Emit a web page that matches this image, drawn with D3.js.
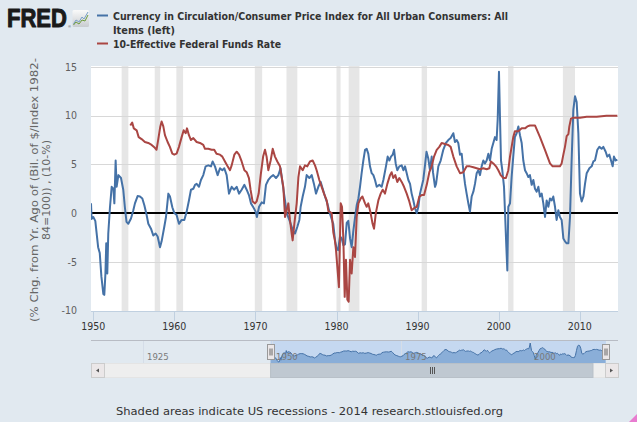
<!DOCTYPE html>
<html><head><meta charset="utf-8">
<script src="https://cdn.jsdelivr.net/npm/d3@7/dist/d3.min.js"></script>
<style>html,body{margin:0;padding:0;background:#e1e9f0;overflow:hidden}svg{display:block}</style>
</head><body>
<svg id="c" width="637" height="422"></svg>
<script>
// ---------- DATA ----------
const blueYears = [1949.72,1949.8,1950.0,1950.25,1950.6,1950.8,1951.0,1951.24,1951.36,1951.5,1951.6,1951.73,1951.85,1952.06,1952.27,1952.48,1952.6,1952.76,1952.88,1953.1,1953.42,1953.7,1953.9,1954.1,1954.32,1954.65,1954.94,1955.14,1955.47,1955.76,1956.05,1956.3,1956.58,1956.79,1957.12,1957.4,1957.69,1957.94,1958.23,1958.43,1958.76,1958.97,1959.26,1959.46,1959.75,1960.0,1960.28,1960.57,1960.9,1961.23,1961.52,1961.8,1962.05,1962.34,1962.55,1962.75,1963.04,1963.28,1963.57,1963.86,1964.19,1964.52,1964.72,1965.01,1965.34,1965.63,1965.92,1966.16,1966.45,1966.74,1967.07,1967.36,1967.69,1967.98,1968.3,1968.64,1968.92,1969.2,1969.45,1969.74,1970.03,1970.18,1970.45,1970.77,1971.05,1971.3,1971.59,1971.88,1972.2,1972.54,1972.83,1973.1,1973.36,1973.65,1973.85,1974.18,1974.47,1974.68,1974.88,1975.17,1975.42,1975.58,1975.83,1976.11,1976.32,1976.65,1976.94,1977.22,1977.47,1977.76,1978.05,1978.3,1978.58,1978.87,1979.12,1979.4,1979.6,1979.82,1980.0,1980.2,1980.43,1980.64,1980.85,1981.05,1981.26,1981.46,1981.67,1981.87,1982.08,1982.28,1982.49,1982.7,1982.9,1983.1,1983.31,1983.52,1983.72,1983.92,1984.13,1984.34,1984.55,1984.75,1984.96,1985.28,1985.57,1985.78,1986.1,1986.31,1986.52,1986.72,1986.93,1987.1,1987.3,1987.5,1987.75,1988.04,1988.25,1988.45,1988.66,1988.86,1989.07,1989.27,1989.48,1989.68,1989.9,1990.1,1990.3,1990.5,1990.7,1990.9,1991.1,1991.32,1991.53,1991.74,1991.9,1992.15,1992.28,1992.56,1992.85,1993.17,1993.5,1993.79,1994.08,1994.41,1994.61,1994.82,1995.02,1995.23,1995.44,1995.64,1995.85,1996.05,1996.26,1996.46,1996.67,1996.88,1997.08,1997.29,1997.49,1997.7,1997.9,1998.11,1998.31,1998.52,1998.73,1998.93,1999.14,1999.34,1999.55,1999.75,1999.88,2000.04,2000.17,2000.29,2000.45,2000.66,2000.82,2000.95,2001.07,2001.19,2001.4,2001.6,2001.8,2002.0,2002.22,2002.43,2002.63,2002.84,2003.04,2003.25,2003.45,2003.66,2003.86,2004.07,2004.28,2004.48,2004.69,2004.9,2005.1,2005.31,2005.51,2005.72,2005.92,2006.13,2006.33,2006.54,2006.74,2006.95,2007.15,2007.36,2007.56,2007.77,2007.98,2008.18,2008.39,2008.6,2008.8,2009.0,2009.21,2009.42,2009.62,2009.83,2010.03,2010.24,2010.45,2010.65,2010.86,2011.19,2011.47,2011.68,2011.88,2012.17,2012.42,2012.7,2012.91,2013.2,2013.4,2013.65,2013.86,2014.06,2014.22,2014.43,2014.64];
const blueValues = [1.0,-0.6,-0.4,-0.8,-3.5,-4.1,-6.5,-8.3,-8.4,-6.2,-3.1,-6.2,-2.1,0.6,2.7,2.5,1.0,5.4,2.7,3.9,3.6,2.4,0.6,-0.9,-1.1,-0.55,0.3,1.0,1.75,1.7,1.5,0.8,-0.2,-1.1,-1.6,-2.3,-2.1,-2.4,-3.5,-2.9,-1.4,-0.4,2.0,1.7,0.6,0.0,-0.2,-1.1,-0.7,-0.7,0.15,1.3,2.4,2.5,2.9,3.0,2.7,3.4,3.9,4.8,4.9,4.8,5.3,4.8,3.9,4.6,4.4,4.6,3.9,2.0,2.7,2.4,2.7,2.0,2.4,2.9,2.4,1.85,1.0,0.6,0.15,-0.4,0.65,1.1,1.0,2.9,3.4,3.7,3.9,3.6,3.9,4.6,3.0,1.3,0.0,-0.7,-1.4,-1.9,-2.1,-1.4,-0.7,0.65,1.7,2.7,3.9,3.6,3.9,3.0,2.0,2.7,3.2,2.5,1.7,1.0,0.15,-0.6,-1.1,-2.8,-3.6,-3.8,-2.4,-2.6,-3.3,-3.2,-1.0,-0.8,-2.6,-3.5,-1.8,-0.5,0.8,1.5,2.7,4.1,5.4,6.5,6.6,6.1,4.8,4.1,3.9,3.4,2.7,2.9,2.7,3.4,4.8,5.8,5.4,5.8,6.0,6.5,5.1,4.4,4.8,4.9,4.4,4.8,4.1,3.4,3.0,2.0,1.3,0.5,0.0,0.65,2.0,2.7,3.4,4.8,6.3,5.6,4.4,5.8,4.2,2.7,3.0,4.8,5.4,6.5,7.2,7.5,7.7,8.2,7.3,7.5,7.2,6.0,6.1,4.4,3.0,2.0,1.0,0.15,1.7,2.2,3.0,4.1,4.4,3.9,4.8,5.4,5.1,5.4,6.1,5.4,6.6,7.2,7.8,7.5,9.6,14.5,9.6,5.4,4.4,2.7,-0.7,-3.5,-5.9,0.65,1.0,3.7,5.8,7.8,8.2,8.9,8.0,7.2,5.4,4.4,4.1,3.7,3.9,2.9,3.4,2.5,2.2,2.7,1.7,2.0,1.0,-0.4,1.3,0.65,1.5,1.3,1.7,0.65,-0.7,0.3,-0.4,-0.7,-2.6,-2.9,-3.1,-3.1,-0.4,5.4,10.6,12.0,11.4,8.2,2.0,1.2,1.7,3.0,4.1,4.6,4.8,5.3,5.4,6.5,6.8,6.6,6.8,6.3,5.8,6.0,5.4,4.8,5.8,5.4,5.5];

const redYears = [1954.57,1954.8,1955.0,1955.35,1955.6,1955.96,1956.37,1956.78,1957.2,1957.6,1957.8,1958.0,1958.27,1958.43,1958.64,1958.84,1959.17,1959.45,1959.75,1959.99,1960.28,1960.57,1960.9,1961.15,1961.4,1961.56,1961.8,1962.05,1962.34,1962.75,1963.16,1963.57,1963.78,1964.19,1964.6,1964.92,1965.2,1965.63,1965.92,1966.24,1966.57,1966.86,1967.07,1967.4,1967.69,1967.98,1968.3,1968.64,1968.92,1969.2,1969.4,1969.65,1969.95,1970.15,1970.4,1970.65,1970.95,1971.18,1971.38,1971.59,1971.88,1972.13,1972.41,1972.7,1973.03,1973.24,1973.44,1973.65,1973.85,1974.06,1974.26,1974.47,1974.59,1974.8,1975.09,1975.3,1975.5,1975.83,1976.11,1976.4,1976.73,1977.06,1977.35,1977.55,1977.88,1978.17,1978.46,1978.79,1979.0,1979.4,1979.61,1979.8,1979.94,1980.1,1980.3,1980.52,1980.68,1980.85,1981.01,1981.17,1981.34,1981.5,1981.67,1981.87,1982.08,1982.28,1982.49,1982.7,1982.98,1983.2,1983.52,1983.72,1983.92,1984.21,1984.45,1984.63,1984.85,1985.16,1985.45,1985.7,1985.98,1986.27,1986.6,1986.8,1987.0,1987.25,1987.5,1987.75,1988.04,1988.33,1988.66,1988.98,1989.27,1989.56,1989.9,1990.22,1990.5,1990.8,1991.13,1991.45,1991.74,1992.03,1992.36,1992.68,1992.97,1993.38,1993.79,1994.08,1994.41,1994.82,1995.23,1995.64,1996.05,1996.46,1996.88,1997.29,1997.7,1998.11,1998.52,1998.85,1999.05,1999.34,1999.67,1999.96,2000.25,2000.58,2000.9,2001.19,2001.4,2001.6,2001.8,2002.0,2002.43,2002.84,2003.25,2003.54,2003.86,2004.48,2005.1,2005.71,2006.33,2006.66,2007.56,2007.77,2007.98,2008.18,2008.39,2008.6,2008.72,2008.92,2009.21,2010.03,2010.86,2012.09,2013.3,2014.64];
const redValues = [9.0,9.3,8.7,8.5,7.8,7.6,7.3,7.2,7.0,6.7,6.5,7.5,8.9,9.4,8.9,8.0,7.3,6.8,6.1,6.0,6.1,6.8,7.8,8.5,8.2,8.7,8.0,7.5,7.7,7.3,7.2,7.0,6.6,6.6,6.5,6.5,6.1,6.0,5.8,5.3,4.8,4.4,4.9,6.0,6.3,6.0,5.3,4.4,4.2,3.6,2.4,1.2,1.0,1.2,2.0,3.9,5.8,6.5,5.8,4.4,5.4,6.6,5.8,5.3,4.8,3.7,2.7,-0.4,0.3,1.0,-0.7,-2.1,-2.8,-1.1,1.0,3.7,4.8,4.4,4.9,4.8,5.3,5.4,4.9,4.4,3.4,2.7,2.0,1.3,0.2,0.0,-2.0,-2.8,-3.8,-5.5,-7.6,1.0,0.65,-2.8,-8.6,-4.8,-8.9,-9.1,-4.8,-6.2,-3.5,-4.5,-0.4,1.0,1.5,1.7,1.0,0.65,1.0,0.0,-1.1,-1.6,0.0,1.3,2.0,2.4,2.0,3.0,3.9,4.2,3.6,3.9,3.2,3.6,3.2,2.7,2.0,1.2,0.3,0.5,0.65,1.7,1.85,1.85,2.9,4.2,4.8,5.8,6.5,6.8,7.2,7.1,7.0,6.8,5.8,4.8,4.1,4.2,4.8,4.8,4.7,4.6,4.5,4.6,4.5,4.6,5.3,5.1,4.8,4.4,3.9,3.6,3.6,4.4,5.8,6.8,7.8,8.4,8.4,8.7,8.7,8.9,9.0,9.0,7.8,6.5,5.1,4.8,4.8,5.1,6.0,6.8,7.9,8.1,8.9,9.7,9.8,9.8,9.9,9.9,10.0,10.0];

const recessionStarts = [1953.5,1957.58,1960.25,1969.92,1973.83,1980.0,1981.5,1990.5,2001.17,2007.92];
const recessionEnds   = [1954.33,1958.25,1961.08,1970.83,1975.17,1980.5,1982.83,1991.17,2001.83,2009.42];

const yTicks = [-10,-5,0,5,10,15];
const xTicks = [1950,1960,1970,1980,1990,2000,2010];
const navTicks = [1925,1950,1975,2000];
const seriesNames = ["Currency in Circulation/Consumer Price Index for All Urban Consumers: All","Items (left)","10-Effective Federal Funds Rate"];
const yTitle = ["(% Chg. from Yr. Ago of (Bil. of $/Index 1982-","84=100)) , (10-%)"];
const credit = "Shaded areas indicate US recessions - 2014 research.stlouisfed.org";
const colors = {blue:"#4572a7", red:"#aa4643"};

// ---------- LAYOUT ----------
const svg = d3.select("#c");
const L = 91, R = 618, T = 66, B = 311;
const x = d3.scaleLinear().domain([1949.72, 2014.72]).range([L, R]);
const y = d3.scaleLinear().domain([-10, 15]).range([310.5, 67]);
const FONT = "'DejaVu Sans Condensed','DejaVu Sans',Verdana,sans-serif";

function fit(t, w){
  const n = t.node().getComputedTextLength();
  if (Math.abs(n - w) / w > 0.01) t.attr("textLength", w).attr("lengthAdjust", "spacingAndGlyphs");
}

svg.append("rect").attr("width",637).attr("height",422).attr("fill","#e1e9f0");

// plot bg
svg.append("rect").attr("x",L).attr("y",T).attr("width",R-L).attr("height",B-T).attr("fill","#fff");

// recession bands
svg.append("clipPath").attr("id","pc").append("rect").attr("x",L).attr("y",T).attr("width",R-L).attr("height",B-T);
svg.append("g").attr("clip-path","url(#pc)").selectAll("rect").data(recessionStarts).join("rect")
  .attr("x", (d)=>x(d)).attr("width",(d,i)=>x(recessionEnds[i])-x(d))
  .attr("y",T).attr("height",B-T).attr("fill","#e6e6e6");

// gridlines
svg.append("g").selectAll("line").data(yTicks.filter(d=>d!==-10)).join("line")
  .attr("x1",L).attr("x2",R).attr("y1",d=>Math.round(y(d))+0.5).attr("y2",d=>Math.round(y(d))+0.5)
  .attr("stroke","#d8d8d8").attr("stroke-width",1);

// y tick labels
svg.append("g").selectAll("text").data(yTicks).join("text")
  .attr("x",77).attr("y",d=>y(d)).attr("dy","0.36em").attr("text-anchor","end")
  .attr("font-family",FONT).attr("font-size","10.5px").attr("fill","#606060").text(d=>d);

// x axis line & ticks
svg.append("line").attr("x1",L).attr("x2",R).attr("y1",B+0.5).attr("y2",B+0.5).attr("stroke","#c0d0e0");
svg.append("g").selectAll("line").data(xTicks).join("line")
  .attr("x1",d=>Math.round(x(d))+0.5).attr("x2",d=>Math.round(x(d))+0.5).attr("y1",B).attr("y2",B+10).attr("stroke","#c0d0e0");
svg.append("g").selectAll("text").data(xTicks).join("text")
  .attr("x",d=>x(d)).attr("y",330).attr("text-anchor","middle")
  .attr("font-family",FONT).attr("font-size","10.5px").attr("fill","#333").text(d=>d);

// zero line
svg.append("line").attr("x1",L).attr("x2",R).attr("y1",y(0)).attr("y2",y(0)).attr("stroke","#000").attr("stroke-width",2);

// series
const line = d3.line().x(d=>x(d[0])).y(d=>y(d[1]));
const blueData = blueYears.map((d,i)=>[d,blueValues[i]]);
const redData = redYears.map((d,i)=>[d,redValues[i]]);
const gS = svg.append("g").attr("clip-path","url(#pc)");
gS.append("path").datum(blueData).attr("d",line).attr("fill","none").attr("stroke",colors.blue).attr("stroke-width",2).attr("stroke-linejoin","round");
gS.append("path").datum(redData).attr("d",line).attr("fill","none").attr("stroke",colors.red).attr("stroke-width",2).attr("stroke-linejoin","round");

// y title
const yt = svg.append("g").attr("transform","translate(0,190) rotate(-90)");
[37.5, 50].forEach((bx,i)=>{
  const t = yt.append("text").attr("x",0).attr("y",bx).attr("text-anchor","middle")
    .attr("font-family",FONT).attr("font-size","11px").attr("fill","#666").text(yTitle[i]);
  fit(t, i===0 ? 264 : 100);
});

// ---------- HEADER ----------
svg.append("g").attr("transform","translate(7,27) scale(1,1.2)")
  .append("text").attr("x",0).attr("y",0).attr("font-family","'Liberation Sans',Arial,sans-serif")
  .attr("font-weight",900).attr("font-size","22px").attr("fill","#1a1a1a")
  .attr("stroke","#1a1a1a").attr("stroke-width",0.9).attr("stroke-linejoin","round").text("FRED");
svg.append("text").attr("x",68.3).attr("y",28).attr("font-family","sans-serif").attr("font-size","3.5px").attr("fill","#333").text("®");
const grad = svg.append("defs").append("linearGradient").attr("id","ig").attr("x1",0).attr("y1",0).attr("x2",0).attr("y2",1);
grad.append("stop").attr("offset","0").attr("stop-color","#fafafa");
grad.append("stop").attr("offset","1").attr("stop-color","#c8ccd0");
svg.append("rect").attr("x",72.5).attr("y",10).attr("width",16.5).attr("height",17).attr("rx",1.5).attr("fill","url(#ig)");
svg.append("path").attr("d","M73.5,24 L76,20 L79,22 L82,17 L84,19 L88,12").attr("fill","none").attr("stroke","#7aa0c8").attr("stroke-width",1);
svg.append("path").attr("d","M73.5,25 L76,22 L79,24 L82,20 L85,21 L88,15").attr("fill","none").attr("stroke","#6a9a3a").attr("stroke-width",1);

// legend
const legY = [15.5, 43.5];
svg.append("line").attr("x1",97).attr("x2",108).attr("y1",legY[0]).attr("y2",legY[0]).attr("stroke",colors.blue).attr("stroke-width",2);
svg.append("line").attr("x1",97).attr("x2",108).attr("y1",legY[1]).attr("y2",legY[1]).attr("stroke",colors.red).attr("stroke-width",2);
const legBase = [20, 34, 48];
const legW = [395, 62, 168];
seriesNames.forEach((s,i)=>{
  const t = svg.append("text").attr("x",113).attr("y",legBase[i]).attr("font-family",FONT)
    .attr("font-weight","bold").attr("font-size","11px").attr("fill","#333").text(s);
  fit(t, legW[i]);
});

// ---------- NAVIGATOR ----------
const nx = d3.scaleLinear().domain([1914.92, 2017.05]).range([L, R]);
const ny = d3.scaleLinear().domain(d3.extent(blueValues)).range([362, 343]);
const selA = nx(1949.72), selB = nx(2014.72);
svg.append("line").attr("x1",L).attr("x2",R).attr("y1",340.5).attr("y2",340.5).attr("stroke","#b8bcc4");
svg.append("rect").attr("x",selA).attr("y",341).attr("width",selB-selA).attr("height",22).attr("fill","#c5d8f0");
svg.append("g").selectAll("line").data(navTicks).join("line")
  .attr("x1",d=>Math.round(nx(d))+0.5).attr("x2",d=>Math.round(nx(d))+0.5).attr("y1",341).attr("y2",363)
  .attr("stroke","#d5dde8");
const area = d3.area().x(d=>nx(d[0])).y0(363).y1(d=>ny(d[1]));
svg.append("path").datum(blueData).attr("d",area).attr("fill","#8aaed8");
svg.append("path").datum(blueData).attr("d",d3.line().x(d=>nx(d[0])).y(d=>ny(d[1]))).attr("fill","none").attr("stroke",colors.blue).attr("stroke-width",1);
svg.append("g").selectAll("text").data(navTicks).join("text")
  .attr("x",d=>nx(d)+4).attr("y",359.5).attr("font-family",FONT).attr("font-size","9.5px").attr("fill","#7a7a7a").text(d=>d);
// handles
[selA, selB].forEach(hx=>{
  const g = svg.append("g").attr("transform",`translate(${Math.round(hx)-3.5},344.5)`);
  g.append("rect").attr("width",7).attr("height",15).attr("fill","#ebe7e8").attr("stroke","#999");
  g.append("line").attr("x1",2.5).attr("x2",2.5).attr("y1",4).attr("y2",11).attr("stroke","#666");
  g.append("line").attr("x1",4.5).attr("x2",4.5).attr("y1",4).attr("y2",11).attr("stroke","#666");
});
// scrollbar
svg.append("rect").attr("x",L+0.5).attr("y",363.5).attr("width",R-L-1).attr("height",14).attr("fill","#eeeeee").attr("stroke","#e4e4e4");
svg.append("rect").attr("x",selA).attr("y",363.5).attr("width",selB-selA-13).attr("height",14).attr("fill","#bfc8d1").attr("stroke","#b8c0c8");
const gc = (selA + selB - 13)/2;
[-2,0,2].forEach(o=>svg.append("line").attr("x1",Math.round(gc)+o+0.5).attr("x2",Math.round(gc)+o+0.5).attr("y1",367).attr("y2",374).attr("stroke","#555"));
[[L,-1],[R-13,1]].forEach(([bx,dir])=>{
  svg.append("rect").attr("x",bx+0.5).attr("y",363.5).attr("width",13).attr("height",14).attr("fill","#ebe7e8").attr("stroke","#ccc");
  const cx = bx+6.5, cy = 370.5;
  svg.append("path").attr("d", dir<0 ? `M${cx+1.5},${cy-2} L${cx-1.5},${cy} L${cx+1.5},${cy+2}Z` : `M${cx-1.5},${cy-2} L${cx+1.5},${cy} L${cx-1.5},${cy+2}Z`).attr("fill","#555");
});

// credit
const ct = svg.append("text").attr("x",116).attr("y",415).attr("font-family",FONT).attr("font-size","11px").attr("fill","#333").text(credit);
fit(ct, 387);
svg.append("path").attr("d","M637,414 L637,422 L629,422Z").attr("fill","#e87cd0");
</script>
</body></html>
